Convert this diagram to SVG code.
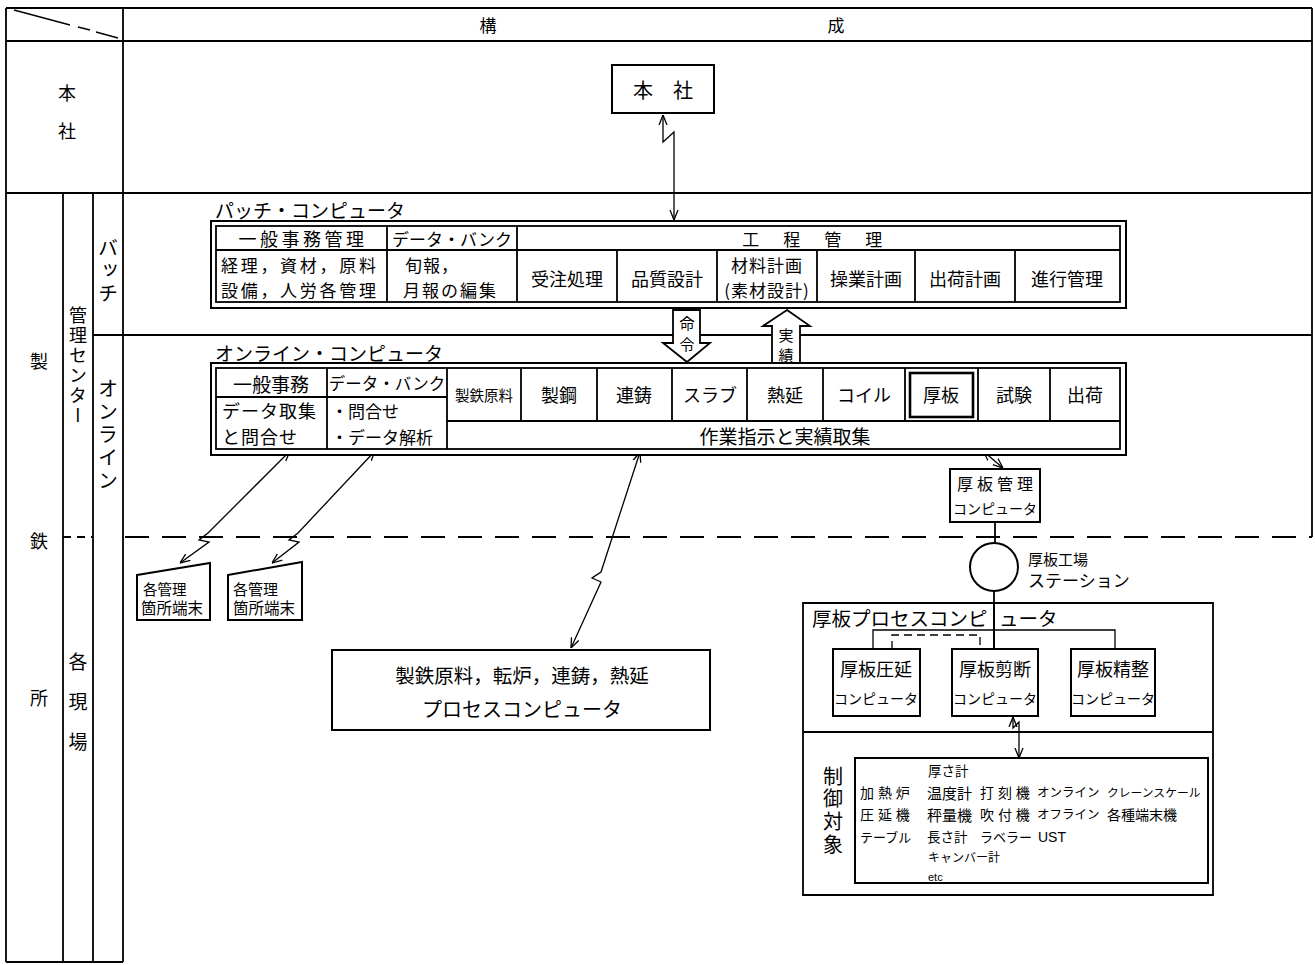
<svg xmlns="http://www.w3.org/2000/svg" width="1315" height="965" viewBox="0 0 1315 965">
<style>
.t{font-family:'Noto Sans CJK JP','Noto Sans CJK SC',sans-serif;fill:#000;dominant-baseline:central;font-size:18px}
.l{font-family:'Liberation Sans','Noto Sans CJK JP',sans-serif;fill:#000;dominant-baseline:central;font-size:14px}
.c{text-anchor:middle}
.v{writing-mode:vertical-rl;font-size:19px}
.ln{stroke:#000;stroke-width:1.8;fill:none}
.th{stroke:#000;stroke-width:1.3;fill:none}
.bx{stroke:#000;stroke-width:2;fill:#fff}
.dash{stroke:#000;stroke-width:1.8;fill:none;stroke-dasharray:24 13}
</style>
<defs>
<marker id="ah" viewBox="0 0 10 10" refX="10" refY="5" markerWidth="10" markerHeight="10" markerUnits="userSpaceOnUse" orient="auto-start-reverse">
<path d="M0,1 L10,5 L0,9" fill="none" stroke="#000" stroke-width="1.3"/>
</marker>
</defs>
<rect width="1315" height="965" fill="#fff"/>

<g id="frame">
<path class="ln" d="M6,8 H1312 M6,8 V962 M1312,8 V537 M6,41 H1312 M123,8 V962 M6,193 H1312 M63,193 V962 M93,193 V962 M93,335 H1312 M6,962 H123"/>
<path class="th" d="M14,10 L70,25 M78,27 L90,30 M96,32 L118,38"/>
<path class="ln" d="M63,537 H93" stroke-dasharray="8 6"/>
<path class="dash" d="M125,537 H1312"/>
<text class="t c" x="488" y="24" style="font-size:17px">構</text>
<text class="t c" x="836" y="24" style="font-size:17px">成</text>
<text class="t c" x="67" y="92">本</text>
<text class="t c" x="67" y="130">社</text>
<text class="t c" x="39" y="360">製</text>
<text class="t c" x="39" y="540">鉄</text>
<text class="t c" x="39" y="697">所</text>
<text class="t v" x="78" y="306" style="font-size:18px;letter-spacing:2px">管理センター</text>
<text class="t v" x="108" y="238" style="font-size:20px;letter-spacing:2.5px">バッチ</text>
<text class="t v" x="108" y="378" style="font-size:20px;letter-spacing:3px">オンライン</text>
<text class="t v" x="78" y="652" style="font-size:19px;letter-spacing:21px">各現場</text>
</g>

<g id="connectors">
<path class="th" d="M663,115 V142 L674,132 V220" marker-start="url(#ah)" marker-end="url(#ah)"/>
<path class="th" d="M290,451 L208,533 L199,540 L209,542 L180,563" marker-start="url(#ah)" marker-end="url(#ah)"/>
<path class="th" d="M375,451 L298,533 L289,540 L299,542 L272,563" marker-start="url(#ah)" marker-end="url(#ah)"/>
<path class="th" d="M640,452 L601,572 L592,578 L601,582 L571,648" marker-start="url(#ah)" marker-end="url(#ah)"/>
<path class="th" d="M983,451 L1003,468" marker-start="url(#ah)" marker-end="url(#ah)"/>
<path class="ln" d="M995,522 V543 M994,591 V649"/>
<path class="th" d="M1013,717 V728 L1019,722 V758" marker-start="url(#ah)" marker-end="url(#ah)"/>
<path class="th" d="M873,649 V630 H1115 V649"/>
<path class="th" d="M892,649 V635 H980 V649" stroke-dasharray="8 5"/>
</g>

<g id="honsha">
<rect class="bx" x="612" y="65" width="102" height="48"/>
<text class="t c" x="663" y="89" style="font-size:20px">本　社</text>
</g>

<g id="batch">
<text class="t" x="215" y="209" style="font-size:19px">パッチ・コンピュータ</text>
<rect class="bx" x="211" y="221" width="915" height="87"/>
<rect class="ln" x="216" y="226" width="904" height="76"/>
<path class="ln" d="M216,250 H1120 M387,226 V302 M517,226 V302 M617,250 V302 M717,250 V302 M817,250 V302 M915,250 V302 M1015,250 V302"/>
<text class="t c" x="303" y="238" style="letter-spacing:3.5px">一般事務管理</text>
<text class="t c" x="452" y="238" style="font-size:17px">データ・バンク</text>
<text class="t c" x="814" y="238" style="font-size:17px;letter-spacing:3.5px">工　程　管　理</text>
<text class="t" x="221" y="264" style="font-size:17px;letter-spacing:2.7px">経理，資材，原料</text>
<text class="t" x="221" y="289" style="font-size:17px;letter-spacing:2.7px">設備，人労各管理</text>
<text class="t" x="405" y="264" style="font-size:17px;letter-spacing:1px">旬報，</text>
<text class="t" x="403" y="289" style="font-size:17px;letter-spacing:2px">月報の編集</text>
<text class="t c" x="567" y="278">受注処理</text>
<text class="t c" x="667" y="278">品質設計</text>
<text class="t c" x="767" y="264" style="font-size:17px;letter-spacing:1px">材料計画</text>
<text class="t c" x="767" y="289" style="font-size:17px;letter-spacing:1px">(素材設計)</text>
<text class="t c" x="866" y="278">操業計画</text>
<text class="t c" x="965" y="278">出荷計画</text>
<text class="t c" x="1067" y="278">進行管理</text>
</g>

<g id="online">
<text class="t" x="215" y="352" style="font-size:19px">オンライン・コンピュータ</text>
<rect class="bx" x="211" y="363" width="915" height="92"/>
<rect class="ln" x="216" y="368" width="904" height="81"/>
<path class="ln" d="M327,368 V449 M447,368 V449 M216,397 H447 M447,421 H1120 M521,368 V421 M597,368 V421 M672,368 V421 M747,368 V421 M823,368 V421 M905,368 V421 M978,368 V421 M1050,368 V421"/>
<rect x="910" y="373" width="63" height="44" fill="none" stroke="#000" stroke-width="2.6"/>
<text class="t c" x="271" y="383" style="font-size:19px">一般事務</text>
<text class="t c" x="387" y="383" style="font-size:16.5px">データ・バンク</text>
<text class="t" x="222" y="410" style="font-size:18px;letter-spacing:1px">データ取集</text>
<text class="t" x="222" y="436" style="font-size:18px;letter-spacing:1px">と問合せ</text>
<text class="t" x="331" y="410" style="font-size:17px">・問合せ</text>
<text class="t" x="331" y="436" style="font-size:17px">・データ解析</text>
<text class="t c" x="484" y="394" style="font-size:14.5px">製鉄原料</text>
<text class="t c" x="559" y="394">製鋼</text>
<text class="t c" x="634" y="394">連鋳</text>
<text class="t c" x="710" y="394">スラブ</text>
<text class="t c" x="785" y="394">熱延</text>
<text class="t c" x="864" y="394">コイル</text>
<text class="t c" x="941" y="394">厚板</text>
<text class="t c" x="1014" y="394">試験</text>
<text class="t c" x="1085" y="394">出荷</text>
<text class="t c" x="785" y="435" style="font-size:19px">作業指示と実績取集</text>
</g>

<g id="cmd-arrow">
<polygon class="ln" style="fill:#fff" points="673,310 700,310 700,343 710,343 687,362 663,343 673,343"/>
<text class="t c" x="687" y="322" style="font-size:15px">命</text>
<text class="t c" x="687" y="343" style="font-size:15px">令</text>
</g>
<g id="result-arrow">
<polygon class="ln" style="fill:#fff" points="787,310 810,326 800,326 800,363 772,363 772,326 763,326"/>
<text class="t c" x="786" y="334" style="font-size:15px">実</text>
<text class="t c" x="786" y="354" style="font-size:15px">績</text>
</g>

<g id="terminal1">
<polygon class="bx" points="137,575 210,563 210,620 137,620"/>
<text class="t" x="143" y="588" style="font-size:14.5px">各管理</text>
<text class="t" x="141" y="607" style="font-size:15.5px">箇所端末</text>
</g>
<g id="terminal2">
<polygon class="bx" points="228,575 302,562 302,620 228,620"/>
<text class="t" x="233" y="588" style="font-size:15px">各管理</text>
<text class="t" x="233" y="607" style="font-size:15.5px">箇所端末</text>
</g>

<g id="process-computer">
<rect class="bx" x="332" y="650" width="378" height="80"/>
<text class="t c" x="522" y="674" style="font-size:19.5px">製鉄原料，転炉，連鋳，熱延</text>
<text class="t c" x="522" y="708" style="font-size:20px">プロセスコンピュータ</text>
</g>

<g id="plate-mgmt">
<rect class="bx" x="950" y="469" width="90" height="53"/>
<text class="t c" x="997" y="483" style="font-size:16px;letter-spacing:4px">厚板管理</text>
<text class="t c" x="995" y="508" style="font-size:14px">コンピュータ</text>
</g>

<g id="station">
<circle cx="994" cy="567" r="24" class="bx"/>
<text class="t" x="1028" y="558" style="font-size:15px">厚板工場</text>
<text class="t" x="1028" y="579" style="font-size:17px">ステーション</text>
</g>

<g id="plate-process">
<path class="ln" d="M803,603 H1213 V895 H803 Z M803,732 H1213"/>
<path class="ln" d="M994,603 V649"/>
<text class="t" x="812" y="617" style="font-size:19.5px">厚板プロセスコンピ<tspan x="999">ュータ</tspan></text>
</g>
<g id="rolling">
<rect class="bx" x="833" y="649" width="87" height="67"/>
<text class="t c" x="876" y="668">厚板圧延</text>
<text class="t c" x="876" y="698" style="font-size:14px">コンピュータ</text>
</g>
<g id="shearing">
<rect class="bx" x="952" y="649" width="86" height="67"/>
<text class="t c" x="995" y="668">厚板剪断</text>
<text class="t c" x="995" y="698" style="font-size:14px">コンピュータ</text>
</g>
<g id="finishing">
<rect class="bx" x="1071" y="649" width="84" height="67"/>
<text class="t c" x="1113" y="668">厚板精整</text>
<text class="t c" x="1113" y="698" style="font-size:14px">コンピュータ</text>
</g>

<g id="control-targets">
<text class="t v" x="833" y="766" style="font-size:20px;letter-spacing:2.7px">制御対象</text>
<rect class="bx" x="855" y="758" width="353" height="125"/>
<text class="l" x="928" y="771" style="font-size:13.5px">厚さ計</text>
<text class="l" x="860" y="793">加 熱 炉</text>
<text class="l" x="927" y="793" style="font-size:15px">温度計</text>
<text class="l" x="980" y="793">打 刻 機</text>
<text class="l" x="1037" y="793" style="font-size:12.5px">オンライン</text>
<text class="l" x="1107" y="793" style="font-size:11.8px">クレーンスケール</text>
<text class="l" x="860" y="815">圧 延 機</text>
<text class="l" x="927" y="815" style="font-size:15px">秤量機</text>
<text class="l" x="980" y="815">吹 付 機</text>
<text class="l" x="1037" y="815" style="font-size:12.5px">オフライン</text>
<text class="l" x="1107" y="815" style="font-size:14px">各種端末機</text>
<text class="l" x="860" y="837" style="font-size:13px">テーブル</text>
<text class="l" x="927" y="837" style="font-size:13.5px">長さ計</text>
<text class="l" x="980" y="837" style="font-size:13px">ラベラー</text>
<text class="l" x="1038" y="837" style="font-size:14px">UST</text>
<text class="l" x="928" y="858" style="font-size:12px">キャンバー計</text>
<text class="l" x="928" y="877" style="font-size:11px">etc</text>
</g>
</svg>
